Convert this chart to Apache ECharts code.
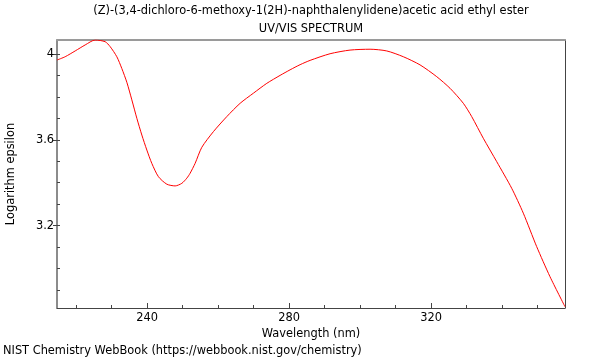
<!DOCTYPE html>
<html><head><meta charset="utf-8">
<script src="https://cdn.jsdelivr.net/npm/echarts@6/dist/echarts.min.js"></script>
<style>html,body{margin:0;padding:0;background:#fff}#c{width:600px;height:360px}</style>
</head><body><div id="c"></div>
<script>
const titleText = "(Z)-(3,4-dichloro-6-methoxy-1(2H)-naphthalenylidene)acetic acid ethyl ester";
const subtitleText = "UV/VIS SPECTRUM";
const creditText = "NIST Chemistry WebBook (https://webbook.nist.gov/chemistry)";
const xName = "Wavelength (nm)";
const yName = "Logarithm epsilon";
const wavelength = [214.65,216.9,219.72,222.54,225.35,228.17,229.58,231.46,232.87,234.28,235.69,237.1,238.51,239.92,241.32,243.18,245.55,247.89,249.77,251.18,252.11,253.52,255.41,258.68,262.45,266.2,269.94,273.72,277.46,280.28,283.1,285.92,291.55,297.18,302.82,307.52,312.2,316.9,321.61,325.35,329.1,331.46,334.73,338.51,342.73,346.0,349.77,353.52,357.75];
const logEps = [3.972,3.987,4.014,4.042,4.065,4.057,4.034,3.987,3.932,3.868,3.786,3.7,3.622,3.552,3.49,3.428,3.393,3.385,3.397,3.421,3.444,3.49,3.565,3.638,3.708,3.77,3.817,3.863,3.9,3.926,3.95,3.97,4.001,4.018,4.022,4.014,3.987,3.949,3.894,3.84,3.77,3.708,3.607,3.498,3.374,3.258,3.102,2.962,2.822];
const xMajorTicks = [240,280,320];
const xMinorTicks = [220,230,240,250,260,270,280,290,300,310,320,330,340,350];
const yMajorTicks = [3.2,3.6,4.0];
const yMinorTicks = [2.9,3.0,3.1,3.2,3.3,3.4,3.5,3.6,3.7,3.8,3.9,4.0];
const xMin = 214.6, xMax = 357.75, yMin = 2.816, yMax = 4.065;

const font = "DejaVu Sans";
const fs = 11.4;
const chart = echarts.init(document.getElementById('c'), null, {renderer:'canvas'});
const fmtY = v => String(Math.round(v*10)/10);
chart.setOption({
  animation:false,
  backgroundColor:'#fff',
  title:[
    {text:titleText, left:311, top:6, padding:0, textAlign:'center', textStyle:{fontFamily:font, fontSize:fs, fontWeight:'normal', color:'#000'}},
    {text:subtitleText, left:311, top:24, padding:0, textAlign:'center', textStyle:{fontFamily:font, fontSize:fs, fontWeight:'normal', color:'#000'}},
    {text:creditText, left:3, top:346, padding:0, textStyle:{fontFamily:font, fontSize:fs, fontWeight:'normal', color:'#000'}}
  ],
  grid:{left:57, right:35, top:40, bottom:52, show:false, containLabel:false, outerBoundsMode:'none'},
  xAxis:[
    {type:'value', min:xMin, max:xMax, position:'bottom',
     name:xName, nameLocation:'middle', nameGap:17, nameTextStyle:{fontFamily:font, fontSize:fs, color:'#000'},
     axisLine:{show:true, lineStyle:{color:'#444', width:1}},
     axisTick:{show:true, inside:true, length:5, customValues:xMajorTicks, lineStyle:{color:'#444'}},
     axisLabel:{show:true, customValues:xMajorTicks, fontFamily:font, fontSize:fs, color:'#000', margin:5},
     splitLine:{show:false}},
    {type:'value', min:xMin, max:xMax, position:'bottom',
     axisLine:{show:false},
     axisTick:{show:true, inside:true, length:3, customValues:xMinorTicks, lineStyle:{color:'#444'}},
     axisLabel:{show:false}, splitLine:{show:false}},
    {type:'value', min:xMin, max:xMax, position:'top',
     axisLine:{show:true, lineStyle:{color:'#9a9a9a', width:2}},
     axisTick:{show:false}, axisLabel:{show:false}, splitLine:{show:false}}
  ],
  yAxis:[
    {type:'value', min:yMin, max:yMax, position:'left',
     name:yName, nameLocation:'middle', nameGap:40, nameRotate:90, nameTextStyle:{fontFamily:font, fontSize:fs, color:'#000'},
     axisLine:{show:true, lineStyle:{color:'#666', width:1.5}},
     axisTick:{show:true, inside:false, length:4, customValues:yMajorTicks, lineStyle:{color:'#444'}},
     axisLabel:{show:true, customValues:yMajorTicks, formatter:fmtY, fontFamily:font, fontSize:fs, color:'#000', margin:3},
     splitLine:{show:false}},
    {type:'value', min:yMin, max:yMax, position:'left',
     axisLine:{show:false},
     axisTick:{show:true, inside:true, length:3, customValues:yMinorTicks, lineStyle:{color:'#444'}},
     axisLabel:{show:false}, splitLine:{show:false}},
    {type:'value', min:yMin, max:yMax, position:'right',
     axisLine:{show:true, lineStyle:{color:'#444', width:1}},
     axisTick:{show:false}, axisLabel:{show:false}, splitLine:{show:false}}
  ],
  series:[{
    type:'line', xAxisIndex:0, yAxisIndex:0,
    data: wavelength.map((w,i)=>[w, logEps[i]]),
    smooth:0.25, showSymbol:false, symbol:'none',
    lineStyle:{color:'#ff0000', width:1}, clip:true
  }]
});
</script></body></html>
